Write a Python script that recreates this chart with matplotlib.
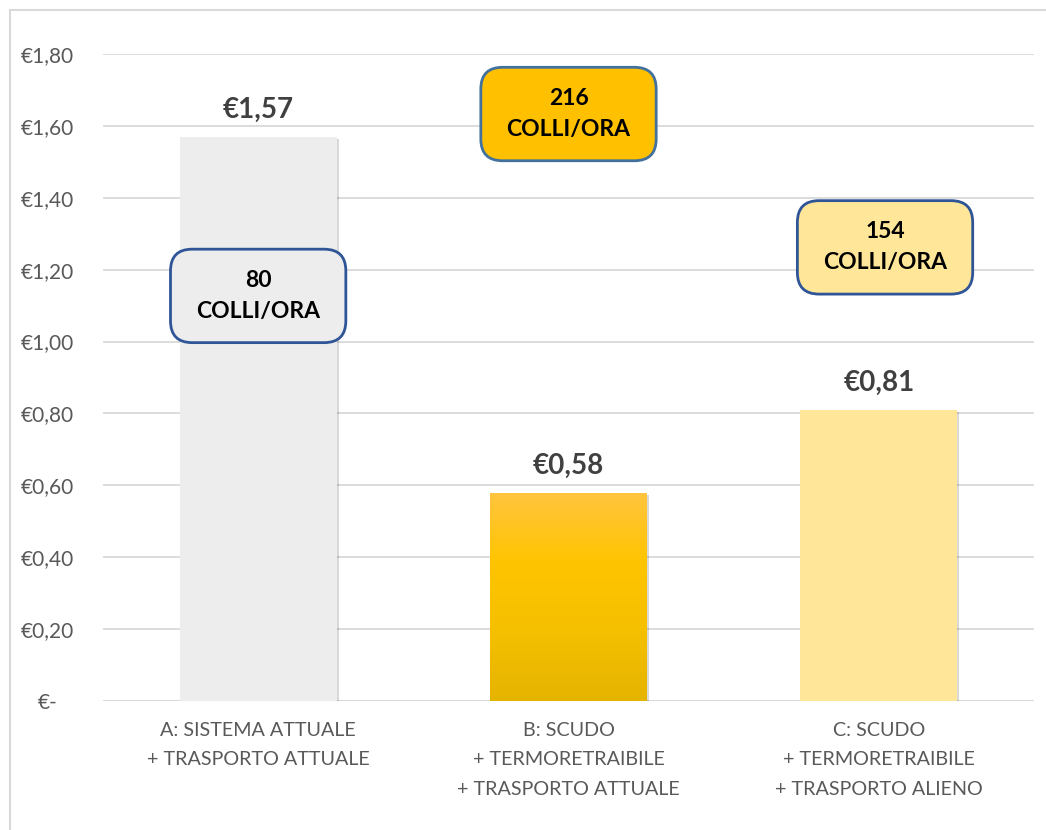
import numpy as np
import matplotlib.pyplot as plt
from matplotlib.patches import FancyBboxPatch
from matplotlib.lines import Line2D
import matplotlib.patheffects as pe
from matplotlib.colors import LinearSegmentedColormap

plt.rcParams['font.family'] = ['Lato', 'DejaVu Sans']

categories = ["A: SISTEMA ATTUALE\n+ TRASPORTO ATTUALE",
              "B: SCUDO\n+ TERMORETRAIBILE\n+ TRASPORTO ATTUALE",
              "C: SCUDO\n+ TERMORETRAIBILE\n+ TRASPORTO ALIENO"]
costs = [1.57, 0.58, 0.81]
cost_labels = ["€1,57", "€0,58", "€0,81"]
rates = ["80\nCOLLI/ORA", "216\nCOLLI/ORA", "154\nCOLLI/ORA"]
rate_y = [1.127, 1.633, 1.262]
rate_x = [0, 1, 2.02]
y_ticks = [0, 0.2, 0.4, 0.6, 0.8, 1.0, 1.2, 1.4, 1.6, 1.8]
y_tick_labels = ["€-", "€0,20", "€0,40", "€0,60", "€0,80", "€1,00",
                 "€1,20", "€1,40", "€1,60", "€1,80"]

bar_colors = ["#EDEDED", "#FFC000", "#FFE699"]
box_faces = ["#EDEDED", "#FFC000", "#FFE699"]
box_edges = ["#2F5597", "#41719C", "#2F5597"]

W, H = 1046, 830
fig = plt.figure(figsize=(W / 100, H / 100), dpi=100)
ax = fig.add_axes([103 / W, (H - 701) / H, (1034 - 103) / W, (701 - 54) / H])

# outer chart border (top and left visible)
fig.add_artist(Line2D([10 / W, 1], [1 - 10 / H, 1 - 10 / H], color="#D9D9D9", lw=1.5))
fig.add_artist(Line2D([10 / W, 10 / W], [0, 1 - 10 / H], color="#D9D9D9", lw=1.5))

x = np.arange(len(categories))
shadow = [pe.SimplePatchShadow(offset=(1.5, -1.5), shadow_rgbFace="#000000", alpha=0.15), pe.Normal()]
bars = ax.bar(x, costs, width=0.505, color=bar_colors, zorder=3, path_effects=shadow)

# gradient fill for bar B
b = bars[1]
grad_cmap = LinearSegmentedColormap.from_list("g", ["#E5B400", "#F5C000", "#FFC400", "#FFC53F"])
grad = np.linspace(0, 1, 256).reshape(-1, 1)
im = ax.imshow(grad, cmap=grad_cmap, aspect="auto", origin="lower",
               extent=[b.get_x(), b.get_x() + b.get_width(), 0, b.get_height()], zorder=4)
im.set_clip_path(b)

for xi, v, lab in zip(x, costs, cost_labels):
    ax.annotate(lab, (xi, v), xytext=(0, 10), textcoords="offset points",
                ha="center", va="bottom", fontsize=20, fontweight="bold", color="#404040", zorder=6)

# throughput boxes
bw, bh = 0.565, 0.26
for xi, yi, txt, fc, ec in zip(rate_x, rate_y, rates, box_faces, box_edges):
    patch = FancyBboxPatch((xi - bw / 2, yi - bh / 2), bw, bh,
                           boxstyle="round,pad=0,rounding_size=0.07",
                           mutation_aspect=310 / 359.4,
                           facecolor=fc, edgecolor=ec, lw=2, zorder=7)
    ax.add_patch(patch)
    ax.text(xi, yi, txt, ha="center", va="center", fontsize=16.5, fontweight="bold",
            color="#000000", linespacing=1.6, zorder=8)

ax.set_xlim(-0.5, 2.5)
ax.set_ylim(0, 1.8)
ax.set_yticks(y_ticks)
ax.set_yticklabels(y_tick_labels, fontsize=15)
ax.set_xticks(x)
ax.set_xticklabels(categories, linespacing=1.9, fontsize=14.2)
ax.grid(axis="y", color="#D9D9D9", lw=1.3, zorder=0)
ax.set_axisbelow(True)
for s in ax.spines.values():
    s.set_visible(False)
ax.tick_params(axis="both", length=0, labelcolor="#595959")
ax.tick_params(axis="y", pad=40)
ax.tick_params(axis="x", pad=15)
for t in ax.get_yticklabels():
    t.set_horizontalalignment("center")
ax.axhline(0, color="#D9D9D9", lw=1.3, zorder=2)

fig.savefig("out.png", dpi=100)
